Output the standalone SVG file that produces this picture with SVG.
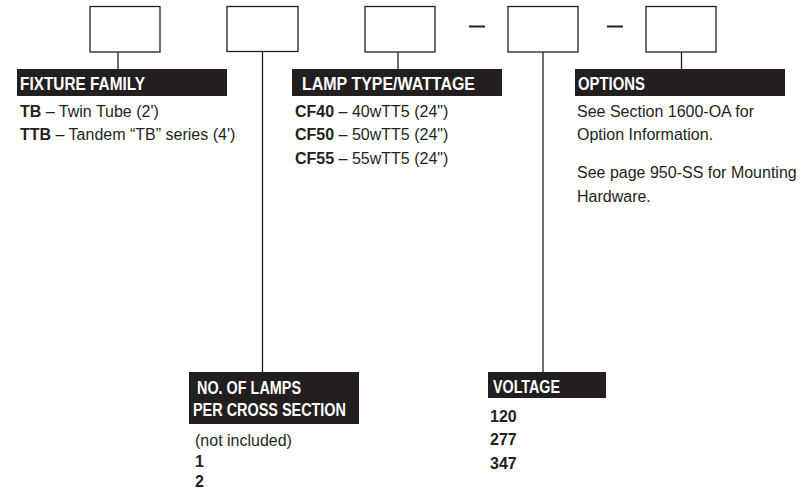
<svg xmlns="http://www.w3.org/2000/svg" width="807" height="496" viewBox="0 0 807 496">
<style>
.box{fill:#fff;stroke:#231f20;stroke-width:1.3}
.ln{stroke:#231f20;stroke-width:1.3;fill:none}
.dash{stroke:#231f20;stroke-width:2}
.bar{fill:#231f20}
.hd{font-family:"Liberation Sans",Arial,sans-serif;font-weight:bold;font-size:19px;fill:#fff}
.tx{font-family:"Liberation Sans",Arial,sans-serif;font-size:16px;fill:#231f20}
.b{font-weight:bold}
</style>
<rect width="807" height="496" fill="#fff"/>
<g id="connectors">
<line class="ln" x1="118" y1="52" x2="118" y2="69"/>
<line class="ln" x1="262.5" y1="51" x2="262.5" y2="372"/>
<line class="ln" x1="398" y1="52" x2="398" y2="69"/>
<line class="ln" x1="543" y1="52" x2="543" y2="372"/>
<line class="ln" x1="681.5" y1="52" x2="681.5" y2="69"/>
<line class="dash" x1="469" y1="26.5" x2="485" y2="26.5"/>
<line class="dash" x1="607" y1="26.5" x2="623" y2="26.5"/>
</g>
<g id="box1"><rect class="box" x="90" y="6.5" width="70" height="45.5"/></g>
<g id="box2"><rect class="box" x="227" y="6.5" width="71" height="45"/></g>
<g id="box3"><rect class="box" x="365" y="6.5" width="70" height="45.5"/></g>
<g id="box4"><rect class="box" x="508" y="6.5" width="70" height="45.5"/></g>
<g id="box5"><rect class="box" x="646" y="6.5" width="70" height="45.5"/></g>
<g id="fixture-family">
<rect class="bar" x="17" y="69" width="210" height="27"/>
<text class="hd" x="20" y="89.5" textLength="125" lengthAdjust="spacingAndGlyphs">FIXTURE FAMILY</text>
<text class="tx" x="20" y="116.5"><tspan class="b">TB</tspan> – Twin Tube (2')</text>
<text class="tx" x="20" y="140"><tspan class="b">TTB</tspan> – Tandem “TB” series (4')</text>
</g>
<g id="lamp-type">
<rect class="bar" x="292" y="69" width="210" height="27"/>
<text class="hd" x="302" y="89.5" textLength="173" lengthAdjust="spacingAndGlyphs">LAMP TYPE/WATTAGE</text>
<text class="tx" x="295" y="116.5"><tspan class="b">CF40</tspan> – 40wTT5 (24")</text>
<text class="tx" x="295" y="140"><tspan class="b">CF50</tspan> – 50wTT5 (24")</text>
<text class="tx" x="295" y="163.5"><tspan class="b">CF55</tspan> – 55wTT5 (24")</text>
</g>
<g id="options">
<rect class="bar" x="575" y="69" width="210" height="27"/>
<text class="hd" x="578" y="89.5" textLength="67" lengthAdjust="spacingAndGlyphs">OPTIONS</text>
<text class="tx" x="577" y="116.5">See Section 1600-OA for</text>
<text class="tx" x="577" y="140">Option Information.</text>
<text class="tx" x="577" y="178">See page 950-SS for Mounting</text>
<text class="tx" x="577" y="201.5">Hardware.</text>
</g>
<g id="lamps-per-section">
<rect class="bar" x="189" y="372" width="170" height="52"/>
<text class="hd" x="197" y="394" textLength="104" lengthAdjust="spacingAndGlyphs">NO. OF LAMPS</text>
<text class="hd" x="193" y="416" textLength="153" lengthAdjust="spacingAndGlyphs">PER CROSS SECTION</text>
<text class="tx" x="195" y="446">(not included)</text>
<text class="tx b" x="195" y="466.5">1</text>
<text class="tx b" x="195" y="486.5">2</text>
</g>
<g id="voltage">
<rect class="bar" x="488" y="372" width="118" height="26"/>
<text class="hd" x="493" y="393" textLength="67" lengthAdjust="spacingAndGlyphs">VOLTAGE</text>
<text class="tx b" x="490" y="421.5">120</text>
<text class="tx b" x="490" y="445">277</text>
<text class="tx b" x="490" y="468.5">347</text>
</g>
</svg>
